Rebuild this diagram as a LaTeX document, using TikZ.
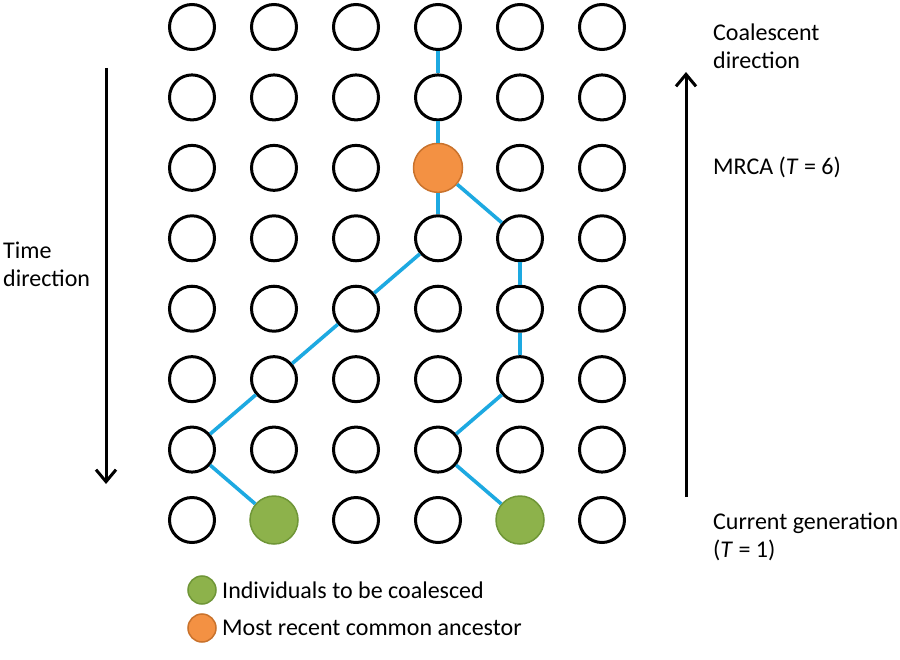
\documentclass[tikz,border=0pt]{standalone}
\usepackage{fontspec}
\setmainfont{Carlito}
\usetikzlibrary{arrows.meta}
\definecolor{linkblue}{HTML}{1DA9E1}
\definecolor{grfill}{HTML}{8DB24B}
\definecolor{grline}{HTML}{6F9637}
\definecolor{orfill}{HTML}{F39143}
\definecolor{orline}{HTML}{C9722C}
\begin{document}
\begin{tikzpicture}[x=1pt,y=-1pt,
  ind/.style={circle,draw=black,line width=3pt,minimum size=45pt,inner sep=0pt},
  green/.style={circle,fill=grfill,draw=grline,line width=1.5pt,minimum size=48pt,inner sep=0pt},
  orange/.style={circle,fill=orfill,draw=orline,line width=1.5pt,minimum size=49pt,inner sep=0pt},
  link/.style={draw=linkblue,line width=3.6pt},
  bigarrow/.style={line width=3pt,-{Straight Barb[length=12pt,width=20pt,line width=3pt]}},
  lbl/.style={font=\fontsize{24}{28}\selectfont,align=left,anchor=west,inner sep=0pt}]
\useasboundingbox[fill=white] (0,0) rectangle (900,660);
% grid
\foreach \c [count=\ci] in {192,274,356,438,520,602}{
  \foreach \r in {1,...,8}{
    \pgfmathsetmacro{\yy}{27+70.43*(\r-1)}
    \coordinate (p\ci-\r) at (\c,\yy);
  }
}
\foreach \ci in {1,...,6}{
  \foreach \r in {1,...,8}{
    \node[ind] (n\ci-\r) at (p\ci-\r) {};
  }
}
\node[orange] (n4-3) at (p4-3) {};
\node[green] (n2-8) at (p2-8) {};
\node[green] (n5-8) at (p5-8) {};
% links
\draw[link] (n4-1) -- (n4-2);
\draw[link] (n4-2) -- (n4-3);
\draw[link] (n4-3) -- (n4-4);
\draw[link] (n4-3) -- (n5-4);
\draw[link] (n4-4) -- (n3-5);
\draw[link] (n3-5) -- (n2-6);
\draw[link] (n2-6) -- (n1-7);
\draw[link] (n1-7) -- (n2-8);
\draw[link] (n5-4) -- (n5-5);
\draw[link] (n5-5) -- (n5-6);
\draw[link] (n5-6) -- (n4-7);
\draw[link] (n4-7) -- (n5-8);
% arrows
\coordinate (ltop) at (106,68);
\coordinate (lbot) at (106,484);
\draw[bigarrow] (ltop) -- (lbot);
\coordinate (rbot) at (686,497);
\coordinate (rtop) at (686,72);
\draw[bigarrow] (rbot) -- (rtop);
% labels
\node[lbl] (coal) at (713,46) {Coalescent\\direction};
\node[lbl] (mrca) at (713,167) {MRCA (\textit{T} = 6)};
\node[lbl] (cur) at (713,537) {Current generation\\(\textit{T} = 1)};
\node[lbl] (time) at (3,264) {Time\\direction};
% legend
\node[green,minimum size=28pt] (lg) at (202,590) {};
\node[orange,minimum size=28pt] (lo) at (202,628) {};
\node[lbl] (lgt) at (222,590) {Individuals to be coalesced};
\node[lbl] (lot) at (222,628) {Most recent common ancestor};
\end{tikzpicture}
\end{document}
